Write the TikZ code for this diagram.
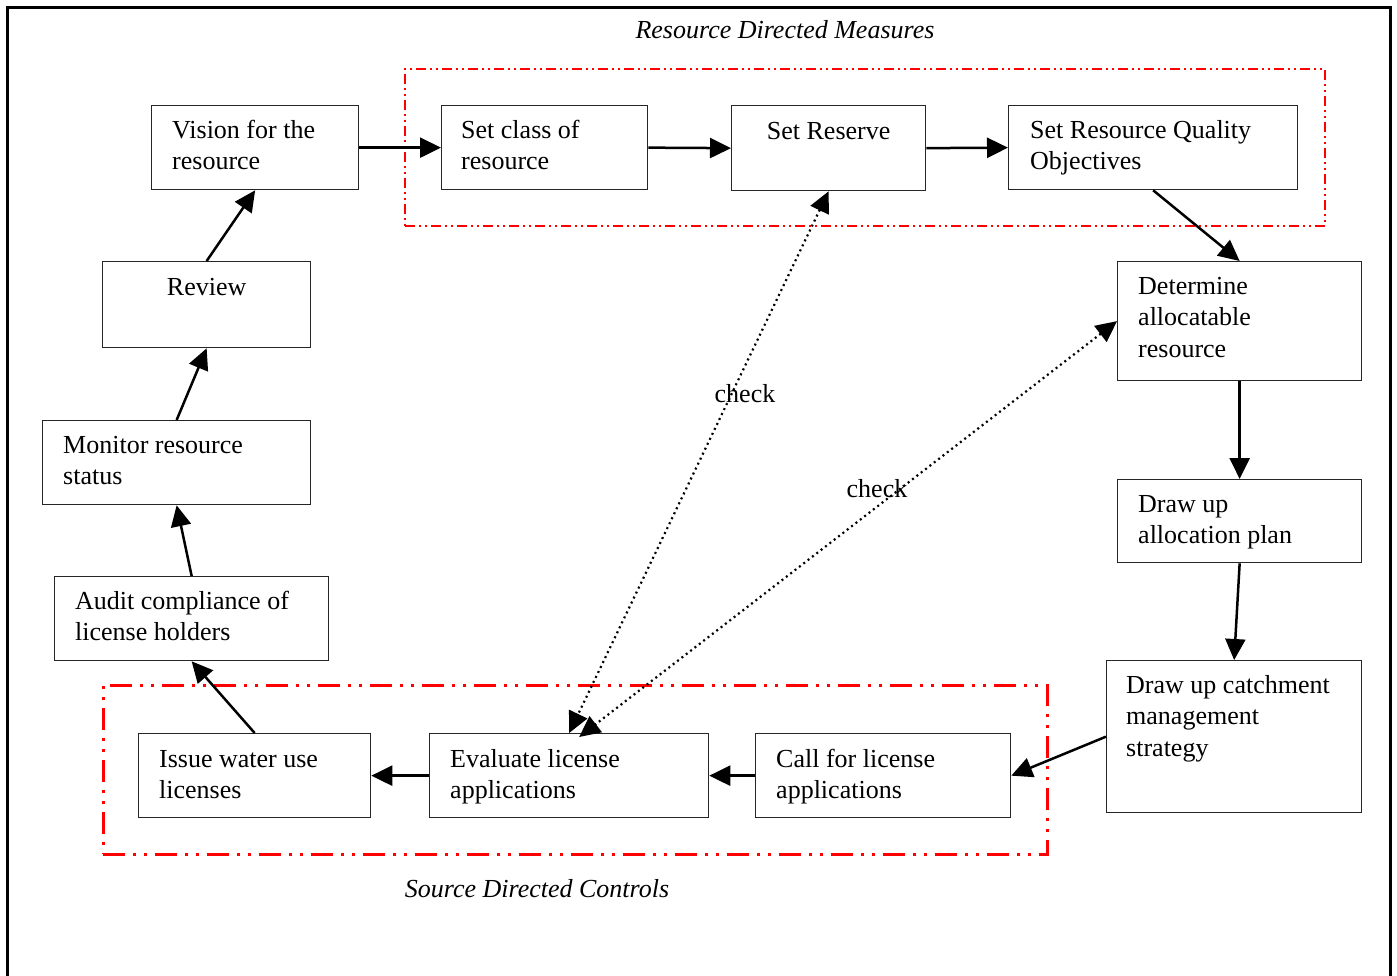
\documentclass[tikz,border=0pt]{standalone}
\usepackage{fontspec}
\setmainfont{Liberation Serif}
\usetikzlibrary{arrows.meta}
\begin{document}
\begin{tikzpicture}[x=1pt,y=-1pt,
  box/.style={draw=black!85, line width=1.3pt, rectangle, inner sep=0pt, anchor=north west},
  txt/.style={font=\fontsize{26}{31.5}\selectfont, align=left, inner sep=0pt, anchor=north west},
  ctxt/.style={font=\fontsize{26}{31.5}\selectfont, inner sep=0pt, anchor=north},
  ttl/.style={font=\fontsize{26}{31.5}\selectfont\itshape, inner sep=0pt, anchor=base},
  lbl/.style={font=\fontsize{26}{31.5}\selectfont, inner sep=0pt, anchor=base},
  arr/.style={line width=2.5pt, -{Triangle[length=21pt,width=20pt]}},
  chk/.style={line width=2.2pt, dash pattern=on 2pt off 3.5pt,
     {Triangle[length=21pt,width=20pt]}-{Triangle[length=21pt,width=20pt]}},
  rdm/.style={draw=red, line width=1.8pt, rectangle, inner sep=0pt, anchor=north west,
     dash pattern=on 10pt off 4pt on 2pt off 4pt on 2pt off 4pt},
  sdc/.style={draw=red, line width=2.8pt, rectangle, inner sep=0pt, anchor=north west,
     dash pattern=on 22pt off 8pt on 3pt off 8pt on 3pt off 8pt}
]
\useasboundingbox (0,0) rectangle (1397,976);
% outer frame
\draw[line width=3pt] (7,995) -- (7,8) -- (1390,8) -- (1390,995);

% groups
\node[rdm, minimum width=920pt, minimum height=157pt] (rdmbox) at (404,68) {};
\node[sdc, minimum width=944pt, minimum height=169pt] (sdcbox) at (102,684) {};
\node[ttl] (t1) at (785,39) {Resource Directed Measures};
\node[ttl] (t2) at (537,897) {Source Directed Controls};

% boxes
\node[box, minimum width=207pt, minimum height=84pt] (vis) at (151,105) {};
\node[txt] (visT) at (172,116) {\strut Vision for the\\resource};

\node[box, minimum width=206pt, minimum height=84pt] (cls) at (441,105) {};
\node[txt] (clsT) at (461,116) {\strut Set class of\\resource};

\node[box, minimum width=194pt, minimum height=85pt] (res) at (731,105) {};
\node[ctxt] (resT) at ([yshift=-12pt]res.north) {\strut Set Reserve};

\node[box, minimum width=289pt, minimum height=84pt] (rqo) at (1008,105) {};
\node[txt] (rqoT) at (1030,116) {\strut Set Resource Quality\\Objectives};

\node[box, minimum width=208pt, minimum height=86pt] (rev) at (102,261) {};
\node[ctxt] (revT) at ([yshift=-12pt]rev.north) {\strut Review};

\node[box, minimum width=244pt, minimum height=119pt] (det) at (1117,261) {};
\node[txt] (detT) at (1138,272) {\strut Determine\\allocatable\\resource};

\node[box, minimum width=268pt, minimum height=84pt] (mon) at (42,420) {};
\node[txt] (monT) at (63,431) {\strut Monitor resource\\status};

\node[box, minimum width=244pt, minimum height=83pt] (alc) at (1117,479) {};
\node[txt] (alcT) at (1138,490) {\strut Draw up\\allocation plan};

\node[box, minimum width=274pt, minimum height=84pt] (aud) at (54,576) {};
\node[txt] (audT) at (75,587) {\strut Audit compliance of\\license holders};

\node[box, minimum width=255pt, minimum height=152pt] (cat) at (1106,660) {};
\node[txt] (catT) at (1126,671) {\strut Draw up catchment\\management\\strategy};

\node[box, minimum width=232pt, minimum height=84pt] (iss) at (138,733) {};
\node[txt] (issT) at (159,745) {\strut Issue water use\\licenses};

\node[box, minimum width=279pt, minimum height=84pt] (eva) at (429,733) {};
\node[txt] (evaT) at (450,745) {\strut Evaluate license\\applications};

\node[box, minimum width=255pt, minimum height=84pt] (cal) at (755,733) {};
\node[txt] (calT) at (776,745) {\strut Call for license\\applications};

% flow arrows
\draw[arr] (vis.east) -- (cls.west);
\draw[arr] (cls.east) -- (res.west);
\draw[arr] (res.east) -- (rqo.west);
\draw[arr] (rqo.south) -- (det.north);
\draw[arr] (det.south) -- (alc.north);
\draw[arr] (alc.south) -- (cat.north);
\draw[arr] (cat.west) -- (cal.east);
\draw[arr] (cal.west) -- (eva.east);
\draw[arr] (eva.west) -- (iss.east);
\draw[arr] (iss.north) -- (aud.south);
\draw[arr] (aud.north) -- (mon.south);
\draw[arr] (mon.north) -- (rev.south);
\draw[arr] (rev.north) -- (vis.south);

% check connectors
\draw[chk] (res.south) -- (eva.north);
\draw[chk] (det.west) -- ([xshift=10pt,yshift=-4pt]eva.north);
\node[lbl] (chk1) at (745,402) {check};
\node[lbl] (chk2) at (877,497) {check};
\end{tikzpicture}
\end{document}
